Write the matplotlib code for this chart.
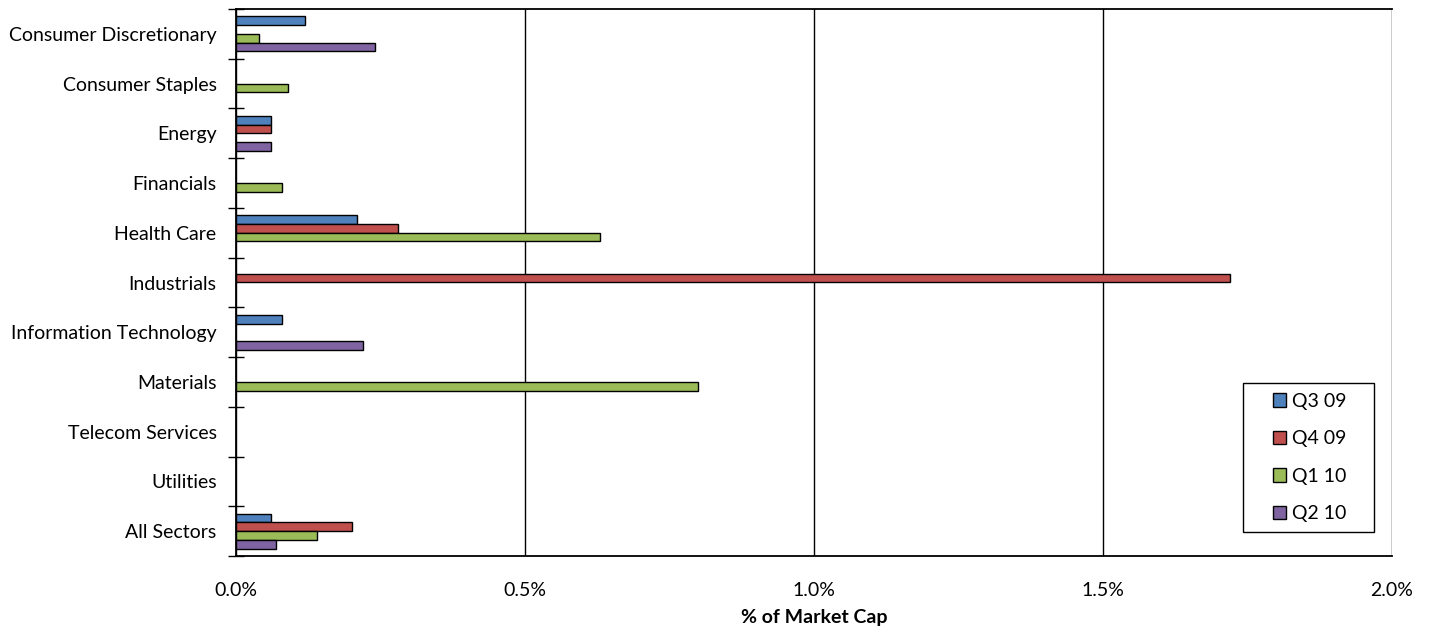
import matplotlib
matplotlib.use("Agg")
import matplotlib.pyplot as plt
import numpy as np
from matplotlib.patches import Rectangle
from matplotlib.ticker import FuncFormatter, FixedLocator

plt.rcParams['font.family'] = ['Lato', 'DejaVu Sans']

sectors = ["Consumer Discretionary", "Consumer Staples", "Energy", "Financials",
           "Health Care", "Industrials", "Information Technology", "Materials",
           "Telecom Services", "Utilities", "All Sectors"]
series_names = ["Q3 09", "Q4 09", "Q1 10", "Q2 10"]
q3_09 = [0.12, 0.00, 0.06, 0.00, 0.21, 0.00, 0.08, 0.00, 0.00, 0.00, 0.06]
q4_09 = [0.00, 0.00, 0.06, 0.00, 0.28, 1.72, 0.00, 0.00, 0.00, 0.00, 0.20]
q1_10 = [0.04, 0.09, 0.00, 0.08, 0.63, 0.00, 0.00, 0.80, 0.00, 0.00, 0.14]
q2_10 = [0.24, 0.00, 0.06, 0.00, 0.00, 0.00, 0.22, 0.00, 0.00, 0.00, 0.07]
x_ticks = [0.0, 0.5, 1.0, 1.5, 2.0]

colors = ["#4F81BD", "#C0504D", "#9BBB59", "#8064A2"]

W, H = 1430, 633
fig = plt.figure(figsize=(W / 100, H / 100), dpi=100)
ax = fig.add_axes([236 / W, 77 / H, 1156 / W, 547 / H])

n = len(sectors)
pos = np.arange(n)
h = 0.175
for i, (vals, name, c) in enumerate(zip([q3_09, q4_09, q1_10, q2_10], series_names, colors)):
    offs = (i - 1.5) * h
    v = np.array(vals)
    mask = v > 0
    ax.barh(pos[mask] + offs, v[mask], height=h, color=c, edgecolor="black",
            linewidth=1.0, label=name, zorder=3)

ax.set_ylim(n - 0.5, -0.5)
ax.set_xlim(0, 2.0)
ax.set_yticks(pos)
ax.set_yticklabels(sectors, fontsize=14)
ax.yaxis.set_minor_locator(FixedLocator(np.arange(-0.5, n, 1.0)))
ax.tick_params(axis="y", which="major", length=0, pad=14)
ax.tick_params(axis="y", which="minor", direction="inout", length=12, width=1.0)

ax.set_xticks(x_ticks)
ax.xaxis.set_major_formatter(FuncFormatter(lambda v, p: f"{v:.1f}%"))
ax.tick_params(axis="x", length=0, pad=19, labelsize=14)
ax.grid(axis="x", color="black", linewidth=1.0, zorder=1)

for s in ["top", "bottom", "left"]:
    ax.spines[s].set_linewidth(1.3)
    ax.spines[s].set_color("black")
ax.spines["right"].set_visible(False)

ax.set_xlabel("% of Market Cap", fontsize=14, fontweight="bold", labelpad=7)

# Legend box drawn separately so the entries can sit with generous margins
box_x0, box_x1, box_top, box_bot = 1243, 1374, 383, 532
frame = Rectangle((box_x0 / W, (H - box_bot) / H),
                  (box_x1 - box_x0) / W, (box_bot - box_top) / H,
                  transform=fig.transFigure, facecolor="white",
                  edgecolor="black", linewidth=1.0, zorder=5, clip_on=False)
ax.add_patch(frame)
leg = ax.legend(loc="center",
                bbox_to_anchor=((box_x0 + box_x1) / 2 / W + 0.001,
                                (H - (box_top + box_bot) / 2) / H),
                bbox_transform=fig.transFigure, fontsize=14, frameon=False,
                handlelength=0.67, handleheight=0.67, handletextpad=0.3,
                labelspacing=1.05, borderpad=0, borderaxespad=0)
leg.set_zorder(6)

fig.savefig("out.png", dpi=100)
